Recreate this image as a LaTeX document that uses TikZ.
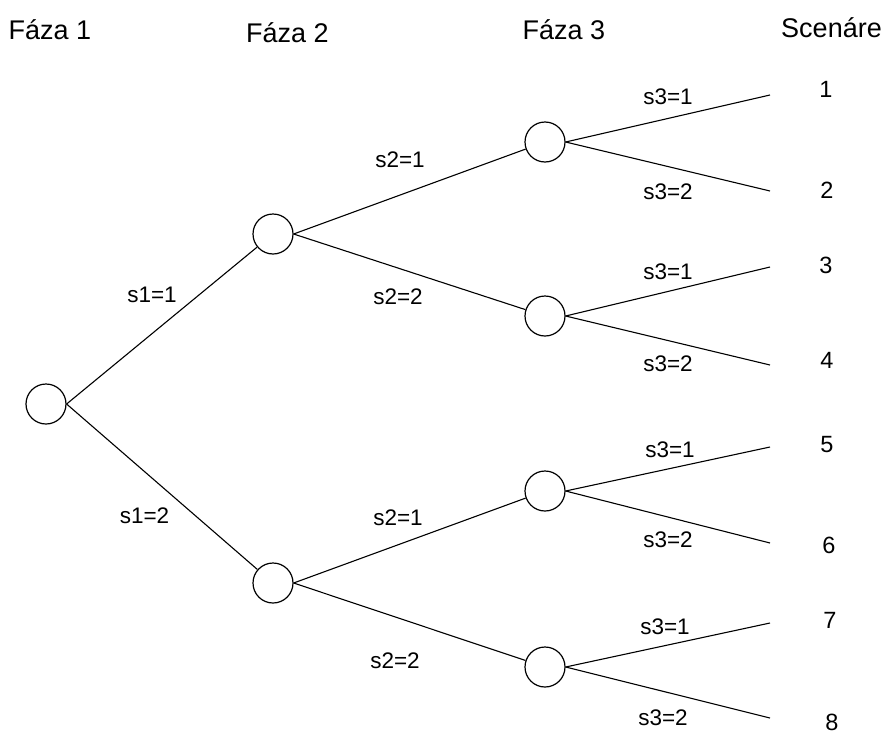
\documentclass[tikz,border=0pt]{standalone}
\usepackage{fontspec}
\setmainfont{Liberation Sans}
\begin{document}
\begin{tikzpicture}[x=1pt,y=-1pt,
  state/.style={circle,draw,line width=1.2pt,minimum size=40pt,inner sep=0pt},
  branch/.style={line width=1.1pt},
  head/.style={anchor=base,inner sep=0pt,font=\fontsize{27}{30}\selectfont},
  lbl/.style={inner sep=0pt,font=\fontsize{22.5}{26}\selectfont},
  num/.style={inner sep=0pt,font=\fontsize{23.5}{27}\selectfont}]
\useasboundingbox (0,0) rectangle (885,736);

% column headings
\node[head] (h1) at (50,39) {Fáza 1};
\node[head] (h2) at (287.5,42) {Fáza 2};
\node[head] (h3) at (564,39) {Fáza 3};
\node[head] (h4) at (831.5,37) {Scenáre};

% decision nodes
\node[state] (r)  at (46,404) {};
\node[state] (a)  at (273,234) {};
\node[state] (b)  at (273,583) {};
\node[state] (a1) at (545,142) {};
\node[state] (a2) at (545,316) {};
\node[state] (b1) at (545,491) {};
\node[state] (b2) at (545,667) {};

% leaf ends
\coordinate (e1) at (770,95);
\coordinate (e2) at (770,191);
\coordinate (e3) at (770,267);
\coordinate (e4) at (770,365);
\coordinate (e5) at (770,447);
\coordinate (e6) at (770,543);
\coordinate (e7) at (770,623);
\coordinate (e8) at (770,718);

% stage 1
\draw[branch] (r.east) -- (a);
\draw[branch] (r.east) -- (b);
% stage 2
\draw[branch] (a.east) -- (a1);
\draw[branch] (a.east) -- (a2);
\draw[branch] (b.east) -- (b1);
\draw[branch] (b.east) -- (b2);
% stage 3
\draw[branch] (a1.east) -- (e1);
\draw[branch] (a1.east) -- (e2);
\draw[branch] (a2.east) -- (e3);
\draw[branch] (a2.east) -- (e4);
\draw[branch] (b1.east) -- (e5);
\draw[branch] (b1.east) -- (e6);
\draw[branch] (b2.east) -- (e7);
\draw[branch] (b2.east) -- (e8);

% branch labels
\node[lbl] (l1) at (152,295) {s1=1};
\node[lbl] (l2) at (144.5,516) {s1=2};
\node[lbl] (l3) at (400,160) {s2=1};
\node[lbl] (l4) at (398,297) {s2=2};
\node[lbl] (l5) at (398,518) {s2=1};
\node[lbl] (l6) at (395,661) {s2=2};
\node[lbl] (m1) at (668,97) {s3=1};
\node[lbl] (m2) at (668,192) {s3=2};
\node[lbl] (m3) at (668,272) {s3=1};
\node[lbl] (m4) at (668,364) {s3=2};
\node[lbl] (m5) at (670,450) {s3=1};
\node[lbl] (m6) at (668,540) {s3=2};
\node[lbl] (m7) at (665,627) {s3=1};
\node[lbl] (m8) at (663,718) {s3=2};

% scenario numbers
\node[num] (n1) at (826,89) {1};
\node[num] (n2) at (827,190) {2};
\node[num] (n3) at (826,265) {3};
\node[num] (n4) at (827,360) {4};
\node[num] (n5) at (827,445) {5};
\node[num] (n6) at (829,545) {6};
\node[num] (n7) at (830,620) {7};
\node[num] (n8) at (832,722) {8};
\end{tikzpicture}
\end{document}
